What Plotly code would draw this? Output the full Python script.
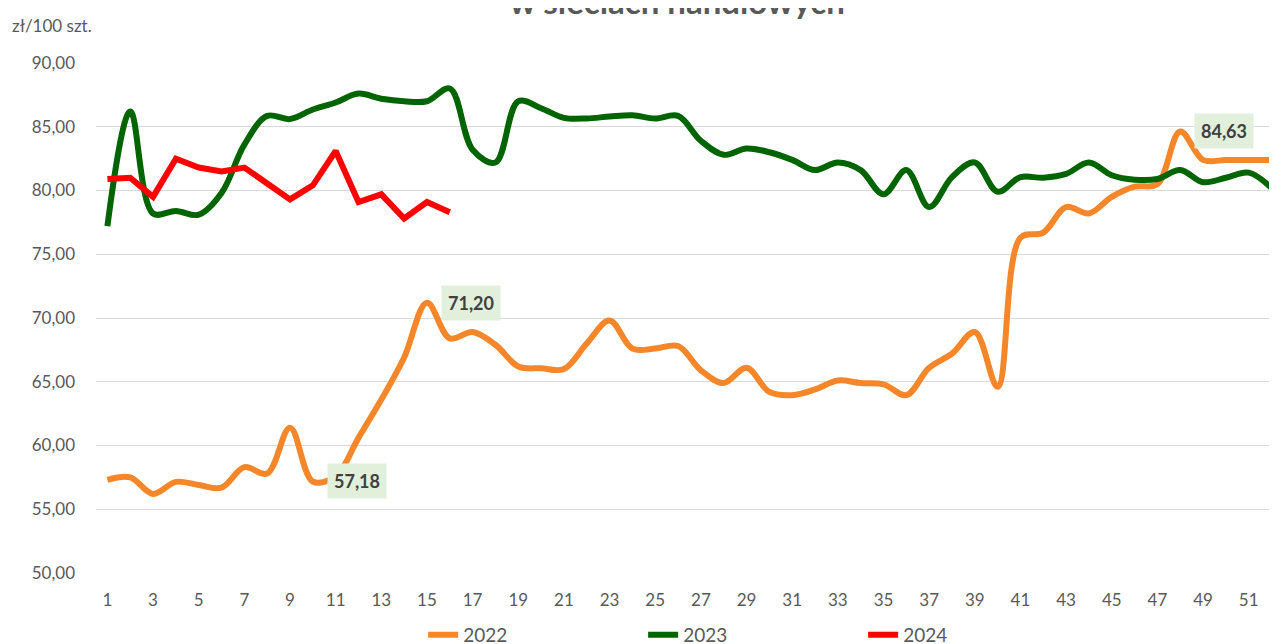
import plotly.graph_objects as go

weeks = list(range(1, 53))

y2022 = [57.3, 57.5, 56.2, 57.15, 56.9, 56.7, 58.3, 57.8, 61.4, 57.18,
         57.6, 60.6, 63.6, 66.9, 71.20, 68.4, 68.9, 67.9, 66.2, 66.05,
         66.0, 68.0, 69.8, 67.6, 67.6, 67.8, 65.9, 64.9, 66.1, 64.2,
         63.95, 64.4, 65.1, 64.9, 64.8, 63.95, 66.1, 67.2, 68.9, 64.6,
         76.3, 76.7, 78.7, 78.2, 79.5, 80.3, 80.5, 84.63, 82.4, 82.4,
         82.4, 82.4]

y2023 = [77.2, 86.2, 78.2, 78.4, 78.1, 79.8, 83.6, 85.85, 85.6, 86.35,
         86.9, 87.6, 87.2, 87.0, 87.0, 88.0, 83.2, 82.2, 87.0, 86.45,
         85.7, 85.65, 85.8, 85.9, 85.65, 85.85, 83.9, 82.8, 83.3, 83.0,
         82.4, 81.6, 82.2, 81.6, 79.7, 81.6, 78.7, 81.05, 82.2, 79.9,
         81.05, 81.0, 81.3, 82.2, 81.2, 80.85, 80.9, 81.6, 80.65, 81.0,
         81.4, 80.2]

y2024 = [80.9, 81.0, 79.5, 82.5, 81.8, 81.5, 81.8, 80.6, 79.3, 80.4,
         83.1, 79.1, 79.7, 77.8, 79.1, 78.3]

labelled = [("2022", 10), ("2022", 15), ("2022", 48)]

tick_weeks = list(range(1, 53, 2))
y_ticks = [50, 55, 60, 65, 70, 75, 80, 85, 90]

FONT = "Lato"
GRAY = "#595959"

fig = go.Figure()
fig.add_trace(go.Scatter(x=weeks, y=y2022, name="2022", mode="lines",
                         line=dict(color="#F5872A", width=6, shape="spline", smoothing=1.0)))
fig.add_trace(go.Scatter(x=weeks, y=y2023, name="2023", mode="lines",
                         line=dict(color="#006400", width=6, shape="spline", smoothing=1.0)))
fig.add_trace(go.Scatter(x=weeks[:len(y2024)], y=y2024, name="2024", mode="lines",
                         line=dict(color="#FF0000", width=6, shape="linear")))

series = {"2022": y2022, "2023": y2023, "2024": y2024}
for s, w in labelled:
    v = series[s][w - 1]
    fig.add_annotation(x=w, y=v, xref="x", yref="y",
                       text=f"<b>{v:.2f}</b>".replace(".", ","),
                       showarrow=False, xshift=44, yshift=0,
                       bgcolor="#E2EFDA", borderpad=6,
                       font=dict(family=FONT, size=18, color="#404040"))

fig.add_annotation(text="zł/100 szt.", xref="paper", yref="paper",
                   x=-0.0728, y=1.0745, xanchor="left", yanchor="middle",
                   showarrow=False, font=dict(family=FONT, size=17, color=GRAY))

fig.update_layout(
    width=1277, height=644,
    margin=dict(l=88, r=8, t=55, b=79, autoexpand=False),
    paper_bgcolor="white", plot_bgcolor="white",
    separators=", ",
    title=dict(text="<b>w sieciach handlowych</b>", xref="container", yref="container",
               x=0.524, xanchor="center", y=0.9913, yanchor="bottom",
               font=dict(family=FONT, size=33, color=GRAY)),
    xaxis=dict(range=[0.5, 52.24], tickmode="array", tickvals=tick_weeks,
               showgrid=False, zeroline=False, showline=False,
               ticks="", ticklabelstandoff=15,
               tickfont=dict(family=FONT, size=17, color=GRAY)),
    yaxis=dict(range=[50, 90], tickmode="array", tickvals=y_ticks, tickformat=".2f",
               showgrid=True, gridcolor="#D9D9D9", gridwidth=1,
               zeroline=False, showline=False, ticks="", ticklabelstandoff=20,
               tickfont=dict(family=FONT, size=17, color=GRAY)),
    legend=dict(orientation="h", x=0.277, xanchor="left", xref="paper",
                y=-0.1216, yref="paper", yanchor="middle",
                entrywidth=175, font=dict(family=FONT, size=19, color=GRAY)),
    showlegend=True,
)

fig.write_html("out.html")
